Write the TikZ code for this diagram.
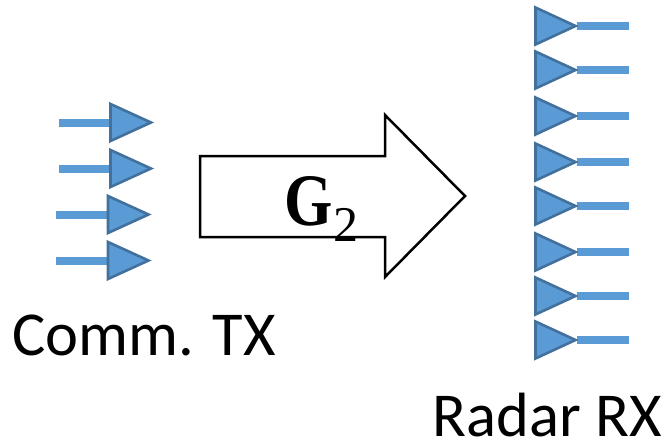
\documentclass[tikz,border=0pt]{standalone}
\usepackage{fontspec}
\setmainfont{Carlito}
\newfontfamily\gfont{Liberation Serif}
\definecolor{fillblue}{HTML}{5B9BD5}
\definecolor{edgeblue}{HTML}{41719C}
\tikzset{
  tri/.style={fill=fillblue,draw=edgeblue,line width=2.6pt,line join=miter},
  stub/.style={draw=fillblue,line width=8pt},
  bigarrow/.style={draw=black,line width=2.5pt,fill=white,line join=miter},
  lab/.style={font=\fontsize{62.5}{63}\selectfont,inner sep=0pt,anchor=base}
}
\begin{document}
\begin{tikzpicture}[x=1pt,y=-1pt]
\useasboundingbox (0,0) rectangle (669,444);
% left array: tail x, base x, apex x, centre y
\foreach \n/\tl/\bx/\ax/\cy in {1/59/110.5/151/122.5,2/59/110.5/151/168.5,3/56/108/148.5/214.5,4/56/108/148.5/260.5}{
  \coordinate (lt\n) at (\tl,\cy);
  \coordinate (lb\n) at (\bx,\cy);
  \draw[stub] (lt\n) -- (lb\n);
  \draw[tri] (\bx,\cy-18.5) -- (\ax,\cy) -- (\bx,\cy+18.5) -- cycle;
}
% right array
\foreach \n/\cy in {1/26,2/70,3/116,4/162,5/206,6/252,7/296,8/340}{
  \coordinate (ra\n) at (577,\cy);
  \coordinate (re\n) at (629,\cy);
  \draw[stub] (ra\n) -- (re\n);
  \draw[tri] (535.5,\cy-18.5) -- (575.5,\cy) -- (535.5,\cy+18.5) -- cycle;
}
\draw[bigarrow] (200,156) -- (385,156) -- (385,115) -- (465,196) -- (385,277) -- (385,237) -- (200,237) -- cycle;
\node[inner sep=0pt,anchor=base west,xscale=0.84] (g) at (284.5,225) {\gfont\fontsize{74}{74}\selectfont\textbf{G}};
\node[inner sep=0pt,anchor=base west] (two) at (333.5,241) {\gfont\fontsize{50}{50}\selectfont 2};
\node[lab] (tx) at (144,355) {Comm. TX};
\node[lab] (rx) at (547,436) {Radar RX};
\end{tikzpicture}
\end{document}
